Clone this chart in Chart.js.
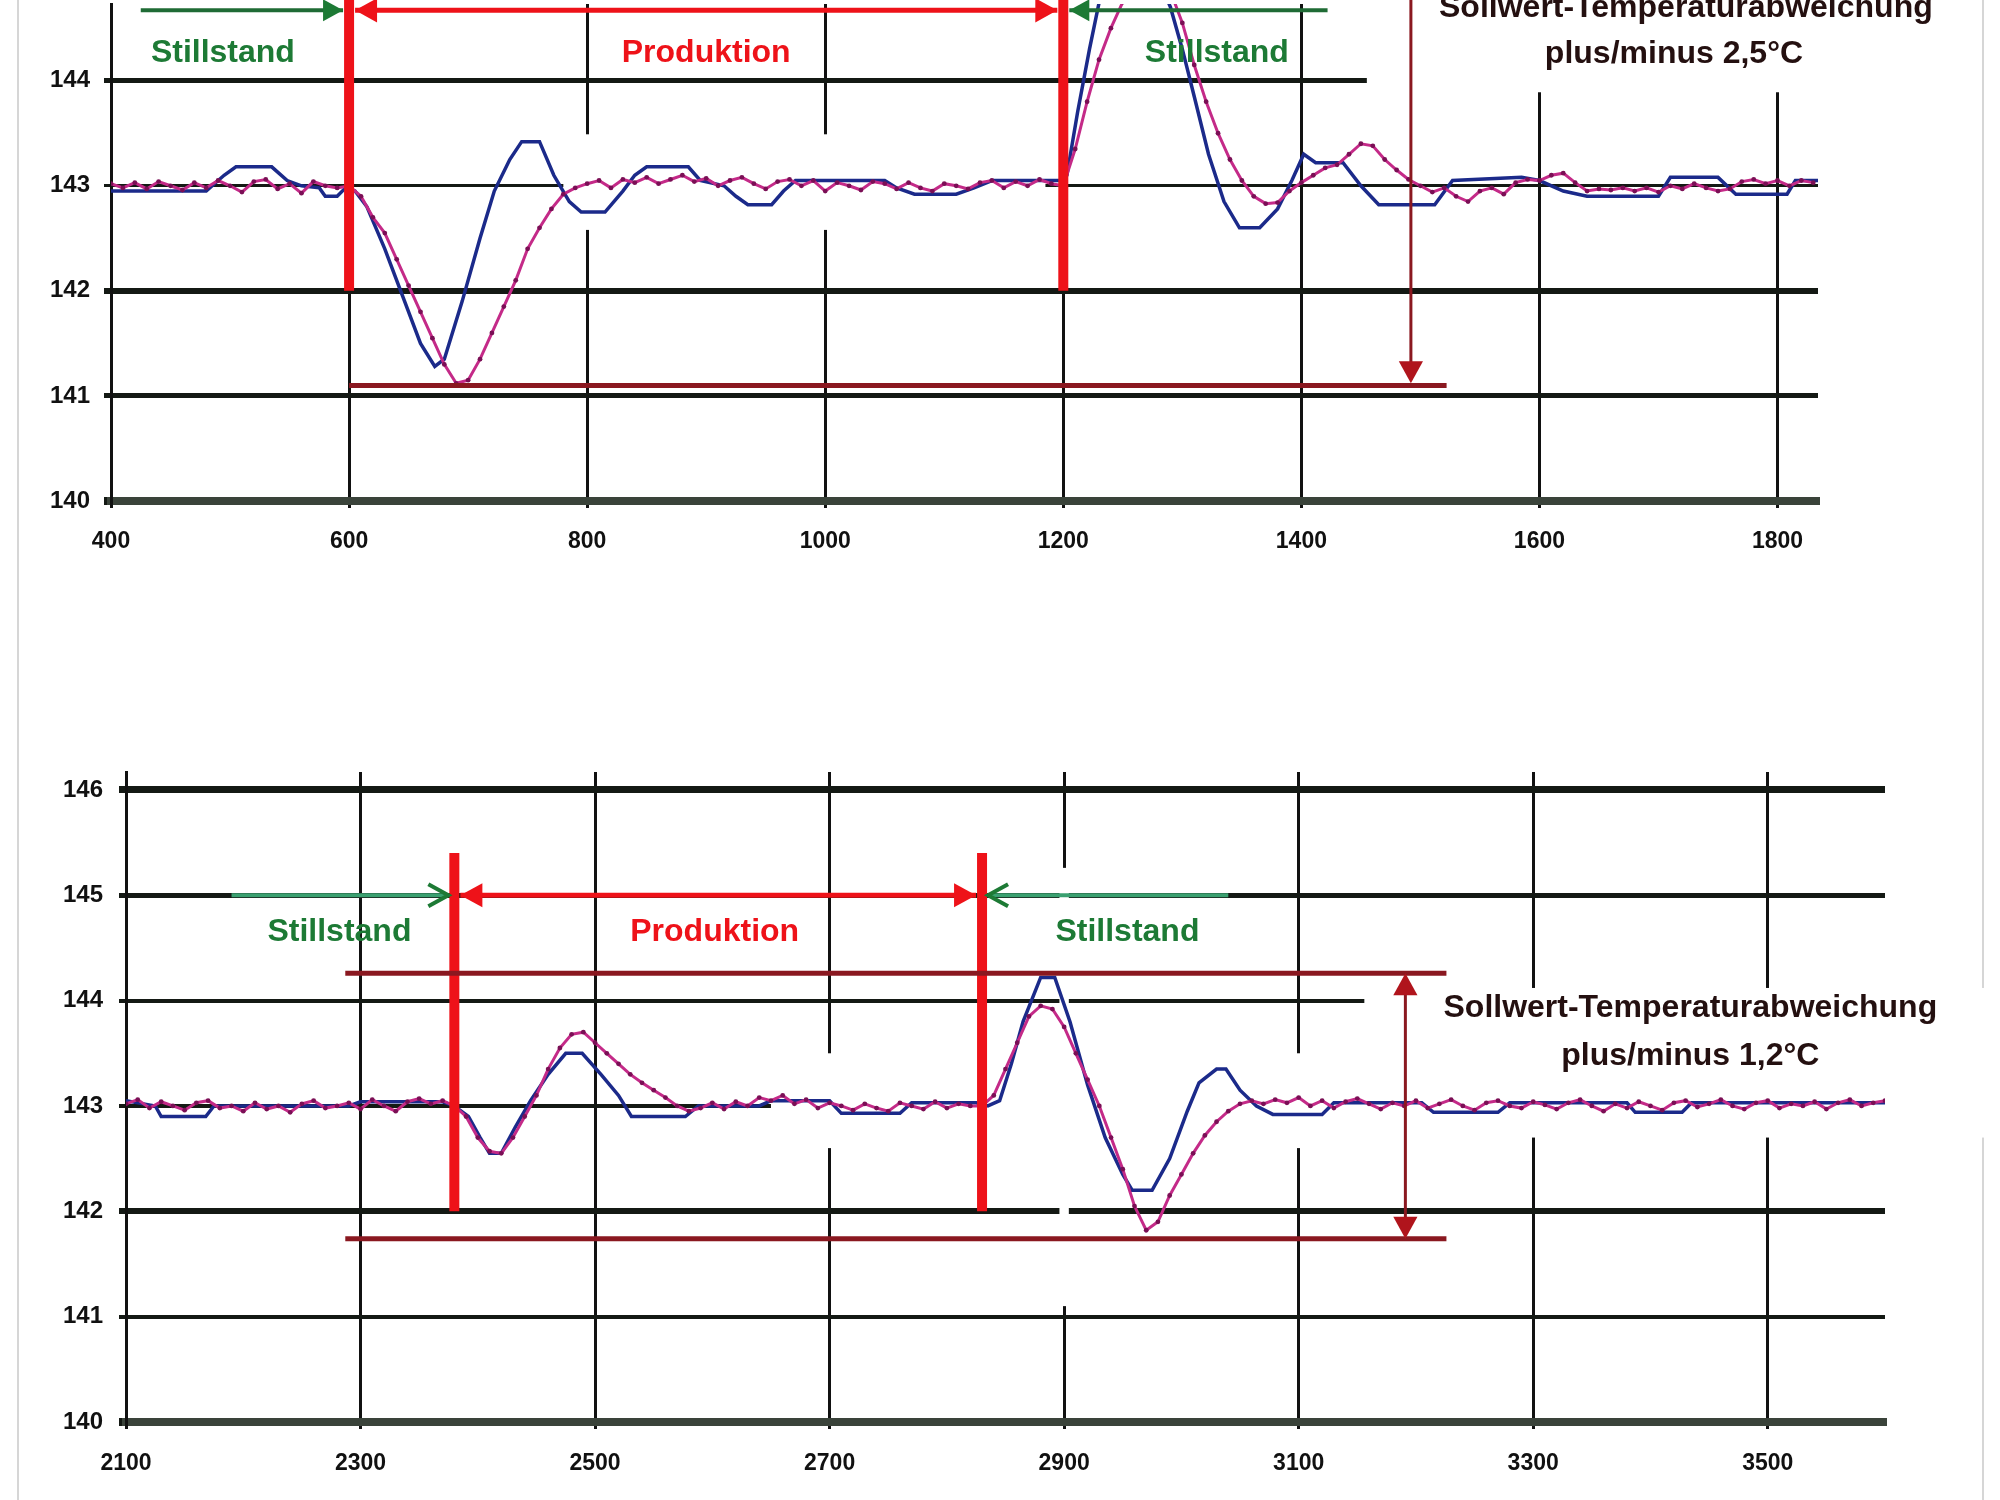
<!DOCTYPE html>
<html><head><meta charset="utf-8">
<script src="https://cdn.jsdelivr.net/npm/chart.js@4.4.1/dist/chart.umd.min.js"></script>
<style>
html,body{margin:0;padding:0;background:#fff;width:2000px;height:1500px;overflow:hidden;}
#frame{position:absolute;left:17px;top:0;width:1967px;height:1500px;border-left:2px solid #d6d6d6;border-right:2px solid #d6d6d6;box-sizing:border-box;}
#c1{position:absolute;left:0;top:0;width:2000px;height:600px;}
#c2{position:absolute;left:0;top:700px;width:2000px;height:800px;}
</style></head><body>
<div id="frame"></div>
<canvas id="c1" width="2000" height="600"></canvas>
<canvas id="c2" width="2000" height="800"></canvas>
<script>
// ---------- DATA: top chart ----------
const topPinkX = [400,410,420,430,440,450,460,470,480,490,500,510,520,530,540,550,560,570,580,590,
600,610,620,630,640,650,660,670,680,690,700,710,720,730,740,750,760,770,780,790,800,
810,820,830,840,850,860,870,880,890,900,910,920,930,940,950,960,970,980,990,1000,1010,1020,1030,1040,1050,1060,1070,1080,1090,1100,1110,1120,1130,1140,1150,1160,1170,1180,1190,
1200,1210,1220,1230,1240,1250,1260,1270,1280,1290,1300,1310,1320,1330,1340,1350,1360,1370,1380,1390,1400,1410,1420,1430,1440,1450,1460,1470,1480,1490,1500,1510,1520,1530,1540,1550,1560,1570,1580,1590,1600,1610,1620,1630,1640,1650,1660,1670,1680,1690,1700,1710,1720,1730,1740,1750,1760,1770,1780,1790,1800,1810,1820,1830];
const topPinkY = [143.02,142.98,143.03,142.97,143.04,143.00,142.96,143.03,142.98,143.05,143.00,142.94,143.04,143.06,142.97,143.02,142.93,143.04,143.00,142.98,
143.00,142.90,142.70,142.55,142.30,142.05,141.80,141.55,141.30,141.12,141.15,141.35,141.60,141.85,142.10,142.40,142.60,142.78,142.92,142.98,143.02,
143.05,142.98,143.06,143.03,143.08,143.02,143.06,143.10,143.04,143.07,143.00,143.05,143.08,143.02,142.97,143.04,143.06,143.00,143.05,142.95,143.03,143.00,142.96,143.04,143.02,142.97,143.03,142.98,142.95,143.02,143.00,142.97,143.03,143.05,142.98,143.04,143.00,143.06,143.02,
143.00,143.35,143.80,144.20,144.50,144.75,144.95,145.05,145.00,144.85,144.55,144.15,143.80,143.50,143.25,143.05,142.90,142.83,142.84,142.95,143.03,143.10,143.17,143.20,143.30,143.40,143.38,143.25,143.15,143.06,143.00,142.94,142.98,142.90,142.85,142.95,142.98,142.92,143.03,143.06,143.05,143.10,143.12,143.03,142.95,142.97,142.96,142.98,142.95,142.98,142.94,143.00,142.97,143.02,142.98,142.95,142.97,143.04,143.06,143.02,143.05,143.00,143.05,143.03];
const topBlueX = [400,480,495,505,535,548,560,575,580,590,597,605,615,630,645,660,672,680,695,710,722,735,745,760,772,785,795,815,830,840,850,885,895,915,925,935,955,965,975,1050,1060,1075,1110,1125,1140,1200,1203,1212,1222,1232,1245,1260,1275,1290,1300,1310,1322,1335,1348,1365,1380,1392,1402,1412,1435,1450,1465,1512,1527,1585,1600,1620,1640,1700,1710,1750,1765,1808,1815,1835];
const topBlueY = [142.95,142.95,143.1,143.18,143.18,143.05,143.0,142.98,142.9,142.9,142.98,142.95,142.8,142.4,141.95,141.5,141.28,141.35,141.9,142.5,142.95,143.25,143.42,143.42,143.1,142.85,142.75,142.75,142.95,143.1,143.18,143.18,143.05,143.0,142.9,142.82,142.82,142.95,143.05,143.05,142.98,142.92,142.92,142.98,143.05,143.05,143.1,143.7,144.3,144.85,145.2,145.3,145.1,144.7,144.3,143.85,143.3,142.85,142.6,142.6,142.78,143.05,143.3,143.22,143.22,143.0,142.82,142.82,143.05,143.08,143.05,142.95,142.9,142.9,143.08,143.08,142.92,142.92,143.05,143.05];
const topXTicks = [400,600,800,1000,1200,1400,1600,1800];
const topYTicks = [140,141,142,143,144];

// ---------- DATA: bottom chart ----------
const botPinkX = [2100,2110,2120,2130,2140,2150,2160,2170,2180,2190,2200,2210,2220,2230,2240,2250,2260,2270,2280,2290,2300,2310,2320,2330,2340,2350,2360,2370,
2380,2390,2400,2410,2420,2430,2440,2450,2460,2470,2480,2490,2500,2510,2520,2530,2540,2550,2560,2570,2580,2590,2600,
2610,2620,2630,2640,2650,2660,2670,2680,2690,2700,2710,2720,2730,2740,2750,2760,2770,2780,2790,2800,2810,2820,
2830,2840,2850,2860,2870,2880,2890,2900,2910,2920,2930,2940,2950,2960,2970,2980,2990,3000,3010,3020,3030,3040,3050,3060,3070,
3080,3090,3100,3110,3120,3130,3140,3150,3160,3170,3180,3190,3200,3210,3220,3230,3240,3250,3260,3270,3280,3290,3300,3310,3320,3330,3340,3350,3360,3370,3380,3390,3400,3410,3420,3430,3440,3450,3460,3470,3480,3490,3500,3510,3520,3530,3540,3550,3560,3570,3580,3590,3600];
const botPinkY = [143.02,143.06,142.98,143.04,143.00,142.96,143.03,143.05,142.98,143.00,142.95,143.03,142.97,143.00,142.94,143.02,143.05,142.98,143.00,143.03,142.97,143.06,143.00,142.95,143.04,143.07,143.02,143.05,
143.00,142.90,142.70,142.57,142.55,142.70,142.90,143.10,143.35,143.55,143.68,143.70,143.60,143.50,143.40,143.30,143.22,143.15,143.08,143.00,142.95,142.98,143.03,
142.97,143.04,143.00,143.08,143.05,143.10,143.02,143.06,142.98,143.03,143.00,142.96,143.02,142.98,142.95,143.03,143.00,142.97,143.04,142.98,143.02,143.00,
143.00,143.10,143.35,143.60,143.85,143.95,143.92,143.75,143.50,143.25,143.00,142.70,142.40,142.05,141.82,141.90,142.15,142.35,142.55,142.72,142.85,142.95,143.02,143.05,143.02,
143.06,143.03,143.08,143.00,143.05,142.98,143.04,143.07,143.02,142.97,143.03,143.00,143.05,142.98,143.02,143.06,143.00,142.96,143.03,143.05,143.00,142.98,143.04,143.01,142.97,143.03,143.06,143.00,142.95,143.02,142.98,143.04,143.00,142.96,143.03,143.05,142.99,143.02,143.06,143.00,142.97,143.03,143.05,142.98,143.02,143.00,143.04,142.97,143.03,143.06,143.00,143.03,143.05];
const botBlueX = [2100,2115,2125,2130,2168,2175,2290,2300,2370,2380,2392,2402,2410,2420,2432,2445,2460,2475,2489,2505,2520,2531,2577,2588,2640,2650,2700,2710,2760,2770,2825,2835,2845,2855,2865,2880,2892,2905,2920,2935,2950,2958,2975,2990,3005,3015,3030,3038,3050,3064,3078,3120,3130,3205,3215,3270,3280,3380,3387,3427,3435,3600];
const botBlueY = [143.05,143.02,143.0,142.9,142.9,143.0,143.0,143.04,143.04,143.0,142.9,142.7,142.55,142.55,142.8,143.05,143.3,143.5,143.5,143.3,143.1,142.9,142.9,143.0,143.0,143.05,143.05,142.93,142.93,143.03,143.03,143.0,143.05,143.4,143.8,144.22,144.22,143.8,143.2,142.7,142.35,142.2,142.2,142.5,142.95,143.22,143.35,143.35,143.15,143.0,142.92,142.92,143.03,143.03,142.94,142.94,143.03,143.03,142.94,142.94,143.03,143.03];
const botXTicks = [2100,2300,2500,2700,2900,3100,3300,3500];
const botYTicks = [140,141,142,143,144,145,146];

// ---------- annotation values (data coordinates) ----------
const topPhaseBars = [600, 1200];
const botPhaseBars = [2380, 2830];
const topLabels = [['Stillstand',494,'g'],['Produktion',900,'r'],['Stillstand',1329,'g']];
const botLabels = [['Stillstand',2282,'g'],['Produktion',2602,'r'],['Stillstand',2954,'g']];

// ---------- styling ----------
const FONT = '"Liberation Sans", Arial, sans-serif';
const GREEN = '#1d7a35', RED = '#ee1219', MAROON = '#8a1820', BLUE = '#1b2a8a', PINK = '#c42a88';

function pts(xs, ys){ return xs.map((x,i)=>({x:x, y:ys[i]})); }

function arrowHead(ctx, x, y, dir, size, color, open){
  const L = size, W = size*0.55;
  let p1, p2;
  if (dir==='r'){ p1=[x-L,y-W]; p2=[x-L,y+W]; }
  if (dir==='l'){ p1=[x+L,y-W]; p2=[x+L,y+W]; }
  if (dir==='d'){ p1=[x-W,y-L]; p2=[x+W,y-L]; }
  if (dir==='u'){ p1=[x-W,y+L]; p2=[x+W,y+L]; }
  ctx.beginPath();
  if (open){
    ctx.moveTo(p1[0],p1[1]); ctx.lineTo(x,y); ctx.lineTo(p2[0],p2[1]);
    ctx.strokeStyle=color; ctx.lineWidth=4; ctx.stroke();
  } else {
    ctx.moveTo(x,y); ctx.lineTo(p1[0],p1[1]); ctx.lineTo(p2[0],p2[1]); ctx.closePath();
    ctx.fillStyle=color; ctx.fill();
  }
}
function hline(ctx, x1, x2, y, color, w){ ctx.beginPath(); ctx.moveTo(x1,y); ctx.lineTo(x2,y); ctx.strokeStyle=color; ctx.lineWidth=w; ctx.stroke(); }
function vline(ctx, x, y1, y2, color, w){ ctx.beginPath(); ctx.moveTo(x,y1); ctx.lineTo(x,y2); ctx.strokeStyle=color; ctx.lineWidth=w; ctx.stroke(); }

const annot = {
  id: 'annot',
  beforeDatasetsDraw(chart, args, o){
    const {ctx, scales:{x, y}} = chart;
    ctx.save(); ctx.fillStyle = '#fff';
    for (const b of o.boxes){
      const x1 = x.getPixelForValue(b[0]), x2 = x.getPixelForValue(b[1]);
      const y1 = y.getPixelForValue(b[2]), y2 = y.getPixelForValue(b[3]);
      ctx.fillRect(Math.min(x1,x2), Math.min(y1,y2), Math.abs(x2-x1), Math.abs(y2-y1));
    }
    ctx.restore();
  },
  afterDatasetsDraw(chart, args, o){
    const {ctx, scales:{x, y}} = chart;
    const X = v => x.getPixelForValue(v), Y = v => y.getPixelForValue(v);
    ctx.save();
    ctx.lineCap = 'butt';
    for (const b of o.bars) vline(ctx, X(b), Y(o.barTop), Y(142), RED, 10);
    const ay = Y(o.arrowY);
    const [b1, b2] = o.bars;
    hline(ctx, X(o.green1), X(b1)-6, ay, o.greenLine, 4);
    arrowHead(ctx, X(b1)-6, ay, 'r', 20, GREEN, o.openGreen);
    hline(ctx, X(b1)+6, X(b2)-6, ay, RED, 5);
    arrowHead(ctx, X(b1)+6, ay, 'l', 22, RED, false);
    arrowHead(ctx, X(b2)-6, ay, 'r', 22, RED, false);
    hline(ctx, X(b2)+6, X(o.green2), ay, o.greenLine, 4);
    arrowHead(ctx, X(b2)+6, ay, 'l', 20, GREEN, o.openGreen);
    for (const r of o.rangeLines) hline(ctx, X(r[0]), X(r[1]), Y(r[2]), MAROON, 5);
    const vx = X(o.rangeArrow[0]);
    const yTop = Y(o.rangeArrow[1]), yBot = Y(o.rangeArrow[2]);
    vline(ctx, vx, o.rangeArrow[3] ? yTop + 18 : yTop, yBot - 18, MAROON, 3);
    arrowHead(ctx, vx, yBot, 'd', 22, '#b0141c', false);
    if (o.rangeArrow[3]) arrowHead(ctx, vx, yTop, 'u', 22, '#b0141c', false);
    ctx.font = 'bold 32px ' + FONT;
    ctx.textAlign = 'center'; ctx.textBaseline = 'middle';
    for (const l of o.labels){
      ctx.fillStyle = l[2]==='g' ? GREEN : RED;
      ctx.fillText(l[0], X(l[1]), Y(o.labelY));
    }
    ctx.fillStyle = '#241010';
    for (const t of o.notes){
      ctx.textAlign = t[3] || 'center';
      ctx.fillText(t[0], X(t[1]), Y(t[2]));
    }
    ctx.restore();
  }
};

function makeChart(id, cfg){
  const gridY = (c) => {
    const v = c.tick && c.tick.value;
    return v === 140 ? '#3a433a' : '#141914';
  };
  return new Chart(document.getElementById(id), {
    type: 'line',
    data: { datasets: [
      { label: 'Soll', data: pts(cfg.pinkX, cfg.pinkY), borderColor: PINK, borderWidth: 3,
        pointRadius: 2.4, pointBackgroundColor: '#7a0f55', pointBorderWidth: 0, tension: 0 },
      { label: 'Ist', data: pts(cfg.blueX, cfg.blueY), borderColor: BLUE, borderWidth: 3.5,
        pointRadius: 0, tension: 0 }
    ]},
    options: {
      responsive: false, animation: false, devicePixelRatio: 1,
      layout: { padding: cfg.padding },
      plugins: { legend: {display:false}, tooltip: {enabled:false}, title:{display:false}, annot: cfg.annot },
      scales: {
        x: { type: 'linear', min: cfg.xmin, max: cfg.xmax,
          afterBuildTicks: s => { s.ticks = cfg.xTicks.map(v => ({value: v})); },
          afterFit: s => { s.height = cfg.xH; s.paddingLeft = 0; s.paddingRight = 0; },
          ticks: { color: '#111', padding: cfg.xPad, maxRotation: 0, autoSkip: false,
            font: { family: FONT, size: 23, weight: 'bold' }, callback: v => String(v) },
          grid: { color: '#111', lineWidth: 3, tickLength: 7, tickColor: '#111' },
          border: { color: '#3a433a', width: 8 } },
        y: { type: 'linear', min: 140, max: cfg.ymax,
          afterBuildTicks: s => { s.ticks = cfg.yTicks.map(v => ({value: v})); },
          afterFit: s => { s.width = cfg.yW; s.paddingTop = 0; s.paddingBottom = 0; },
          ticks: { color: '#111', padding: cfg.yPad, autoSkip: false,
            font: { family: FONT, size: 24, weight: 'bold' }, callback: v => String(v) },
          grid: { color: gridY, lineWidth: c => cfg.hWidth[c.tick ? c.tick.value : 140] || 5,
            tickLength: 7, tickColor: '#141914' },
          border: { color: '#111', width: 3 } }
      }
    },
    plugins: [annot]
  });
}

makeChart('c1', {
  pinkX: topPinkX, pinkY: topPinkY, blueX: topBlueX, blueY: topBlueY,
  xmin: 400, xmax: 1834, ymax: 144.73, xTicks: topXTicks, yTicks: topYTicks,
  padding: { left: 0, top: 0, right: 182, bottom: 0 }, xH: 99, yW: 111, xPad: 20, yPad: 14,
  hWidth: {140: 8, 141: 5, 142: 6, 143: 3, 144: 5},
  annot: {
    boxes: [[1455, 1900, 144.8, 143.89], [780, 1185, 143.49, 142.58]],
    bars: topPhaseBars, barTop: 144.8, arrowY: 144.67, green1: 425, green2: 1422,
    greenLine: '#1f6b35', openGreen: false,
    rangeLines: [[600, 1522, 141.1]], rangeArrow: [1492, 144.8, 141.12, false],
    labels: topLabels, labelY: 144.26,
    notes: [['Sollwert-Temperaturabweichung', 1723, 144.69], ['plus/minus 2,5°C', 1713, 144.25]]
  }
});

makeChart('c2', {
  pinkX: botPinkX, pinkY: botPinkY, blueX: botBlueX, blueY: botBlueY,
  xmin: 2100, xmax: 3600, ymax: 146.17, xTicks: botXTicks, yTicks: botYTicks,
  padding: { left: 0, top: 72, right: 115, bottom: 0 }, xH: 78, yW: 126, xPad: 21, yPad: 16,
  hWidth: {140: 8, 141: 4, 142: 6, 143: 4, 144: 4, 145: 5, 146: 7},
  annot: {
    boxes: [[3156, 3700, 144.12, 142.7], [2650, 3160, 143.5, 142.6], [2896, 2904, 145.26, 141.1]],
    bars: botPhaseBars, barTop: 145.4, arrowY: 145, green1: 2190, green2: 3040,
    greenLine: '#3aa070', openGreen: true,
    rangeLines: [[2287, 3226, 144.26], [2287, 3226, 141.74]], rangeArrow: [3191, 144.26, 141.74, true],
    labels: botLabels, labelY: 144.65,
    notes: [['Sollwert-Temperaturabweichung', 3434, 143.93], ['plus/minus 1,2°C', 3434, 143.47]]
  }
});
</script></body></html>
